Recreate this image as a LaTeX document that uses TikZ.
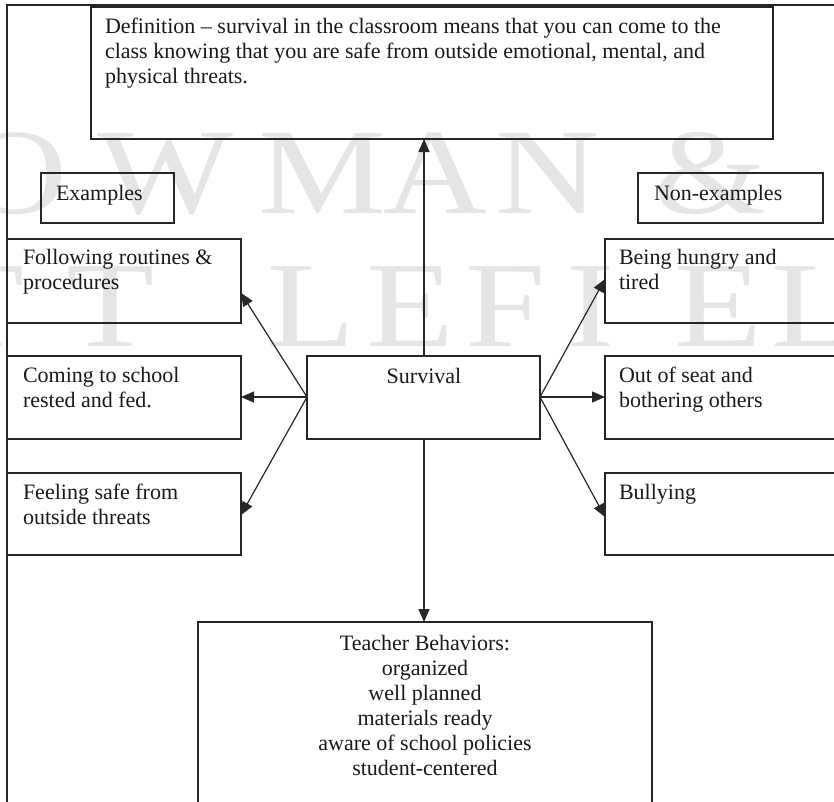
\documentclass[tikz,border=0pt]{standalone}
\usepackage{fontspec}
\setmainfont{Liberation Serif}
\usetikzlibrary{arrows.meta}
\newcommand{\wmch}[1]{\scalebox{1.18}[1]{#1}}
\tikzset{
  box/.style={draw=black!85, line width=1.4pt, inner sep=0pt, outer sep=0pt, anchor=north west},
  txt/.style={font=\fontsize{22}{25}\selectfont, inner sep=0pt, outer sep=0pt, anchor=north west, align=left, text=black!90},
  ctxt/.style={txt, anchor=north, align=center},
  arr/.style={line width=1.2pt, draw=black!85, -{Triangle[length=13pt,width=11pt]}},
  wm/.style={font=\fontsize{122}{122}\selectfont, text=black!10, inner sep=0pt, anchor=base}
}
\begin{document}
\begin{tikzpicture}[x=1pt,y=-1pt]
\useasboundingbox (0,0) rectangle (834,801);
% watermark
\node[wm] (w1) at (15,213) {\wmch{O}};
\node[wm] (w2) at (165,213) {\wmch{W}};
\node[wm] (w3) at (322,213) {\wmch{M}};
\node[wm] (w4) at (435,213) {\wmch{A}};
\node[wm] (w5) at (547,213) {\wmch{N}};
\node[wm] (w6) at (710,213) {\wmch{\&}};
\node[wm] (v1) at (-20,346) {\wmch{T}};
\node[wm] (v2) at (110,346) {\wmch{T}};
\node[wm] (v3) at (311,346) {\wmch{L}};
\node[wm] (v4) at (410,346) {\wmch{E}};
\node[wm] (v5) at (506,346) {\wmch{F}};
\node[wm] (v6) at (590,346) {\wmch{I}};
\node[wm] (v7) at (718,346) {\wmch{E}};
\node[wm] (v8) at (815,346) {\wmch{L}};
% outer frame
\draw[draw=black!85, line width=1.4pt] (840,5) -- (7,5) -- (7,810);
% boxes
\node[box, minimum width=682pt, minimum height=132pt] (def) at (91,7) {};
\node[box, minimum width=133pt, minimum height=50pt] (ex) at (41,173) {};
\node[box, minimum width=185pt, minimum height=50pt] (nex) at (638,173) {};
\node[box, minimum width=234pt, minimum height=84pt] (l1) at (7,239) {};
\node[box, minimum width=234pt, minimum height=83pt] (l2) at (7,356) {};
\node[box, minimum width=234pt, minimum height=82pt] (l3) at (7,473) {};
\node[box, minimum width=233pt, minimum height=83pt] (surv) at (307,356) {};
\node[box, minimum width=240pt, minimum height=84pt] (r1) at (605,239) {};
\node[box, minimum width=240pt, minimum height=83pt] (r2) at (605,356) {};
\node[box, minimum width=240pt, minimum height=82pt] (r3) at (605,473) {};
\node[box, minimum width=454pt, minimum height=200pt] (tb) at (198,622) {};
% texts
\node[txt] (tdef) at (105,18) {Definition -- survival in the classroom means that you can come to the\\class knowing that you are safe from outside emotional, mental, and\\physical threats.};
\node[txt] (tex) at (56,185) {Examples};
\node[txt] (tnex) at (654,185) {Non-examples};
\node[txt] (tl1) at (23,249) {Following routines \&\\procedures};
\node[txt] (tl2) at (23,367) {Coming to school\\rested and fed.};
\node[txt] (tl3) at (23,484) {Feeling safe from\\outside threats};
\node[txt] (tr1) at (619,249) {Being hungry and\\tired};
\node[txt] (tr2) at (619,367) {Out of seat and\\bothering others};
\node[txt] (tr3) at (619,484) {Bullying};
\node[ctxt] (tsurv) at (424,368) {Survival};
\node[ctxt] (ttb) at (425,635) {Teacher Behaviors:\\organized\\well planned\\materials ready\\aware of school policies\\student-centered};
% arrow end points
\coordinate (sw) at (307,397);
\coordinate (se) at (540,397);
\coordinate (a1) at (241,293);
\coordinate (a2) at (241,397);
\coordinate (a3) at (241,515);
\coordinate (b1) at (605,279);
\coordinate (b2) at (605,397);
\coordinate (b3) at (605,517);
\coordinate (sn) at (424,356);
\coordinate (ss) at (424,439);
\coordinate (dn) at (424,139);
\coordinate (tn) at (424,622);
% connectors
\draw[arr] (sw) -- (a1);
\draw[arr] (sw) -- (a2);
\draw[arr] (sw) -- (a3);
\draw[arr] (se) -- (b1);
\draw[arr] (se) -- (b2);
\draw[arr] (se) -- (b3);
\draw[arr] (sn) -- (dn);
\draw[arr] (ss) -- (tn);
\end{tikzpicture}
\end{document}
